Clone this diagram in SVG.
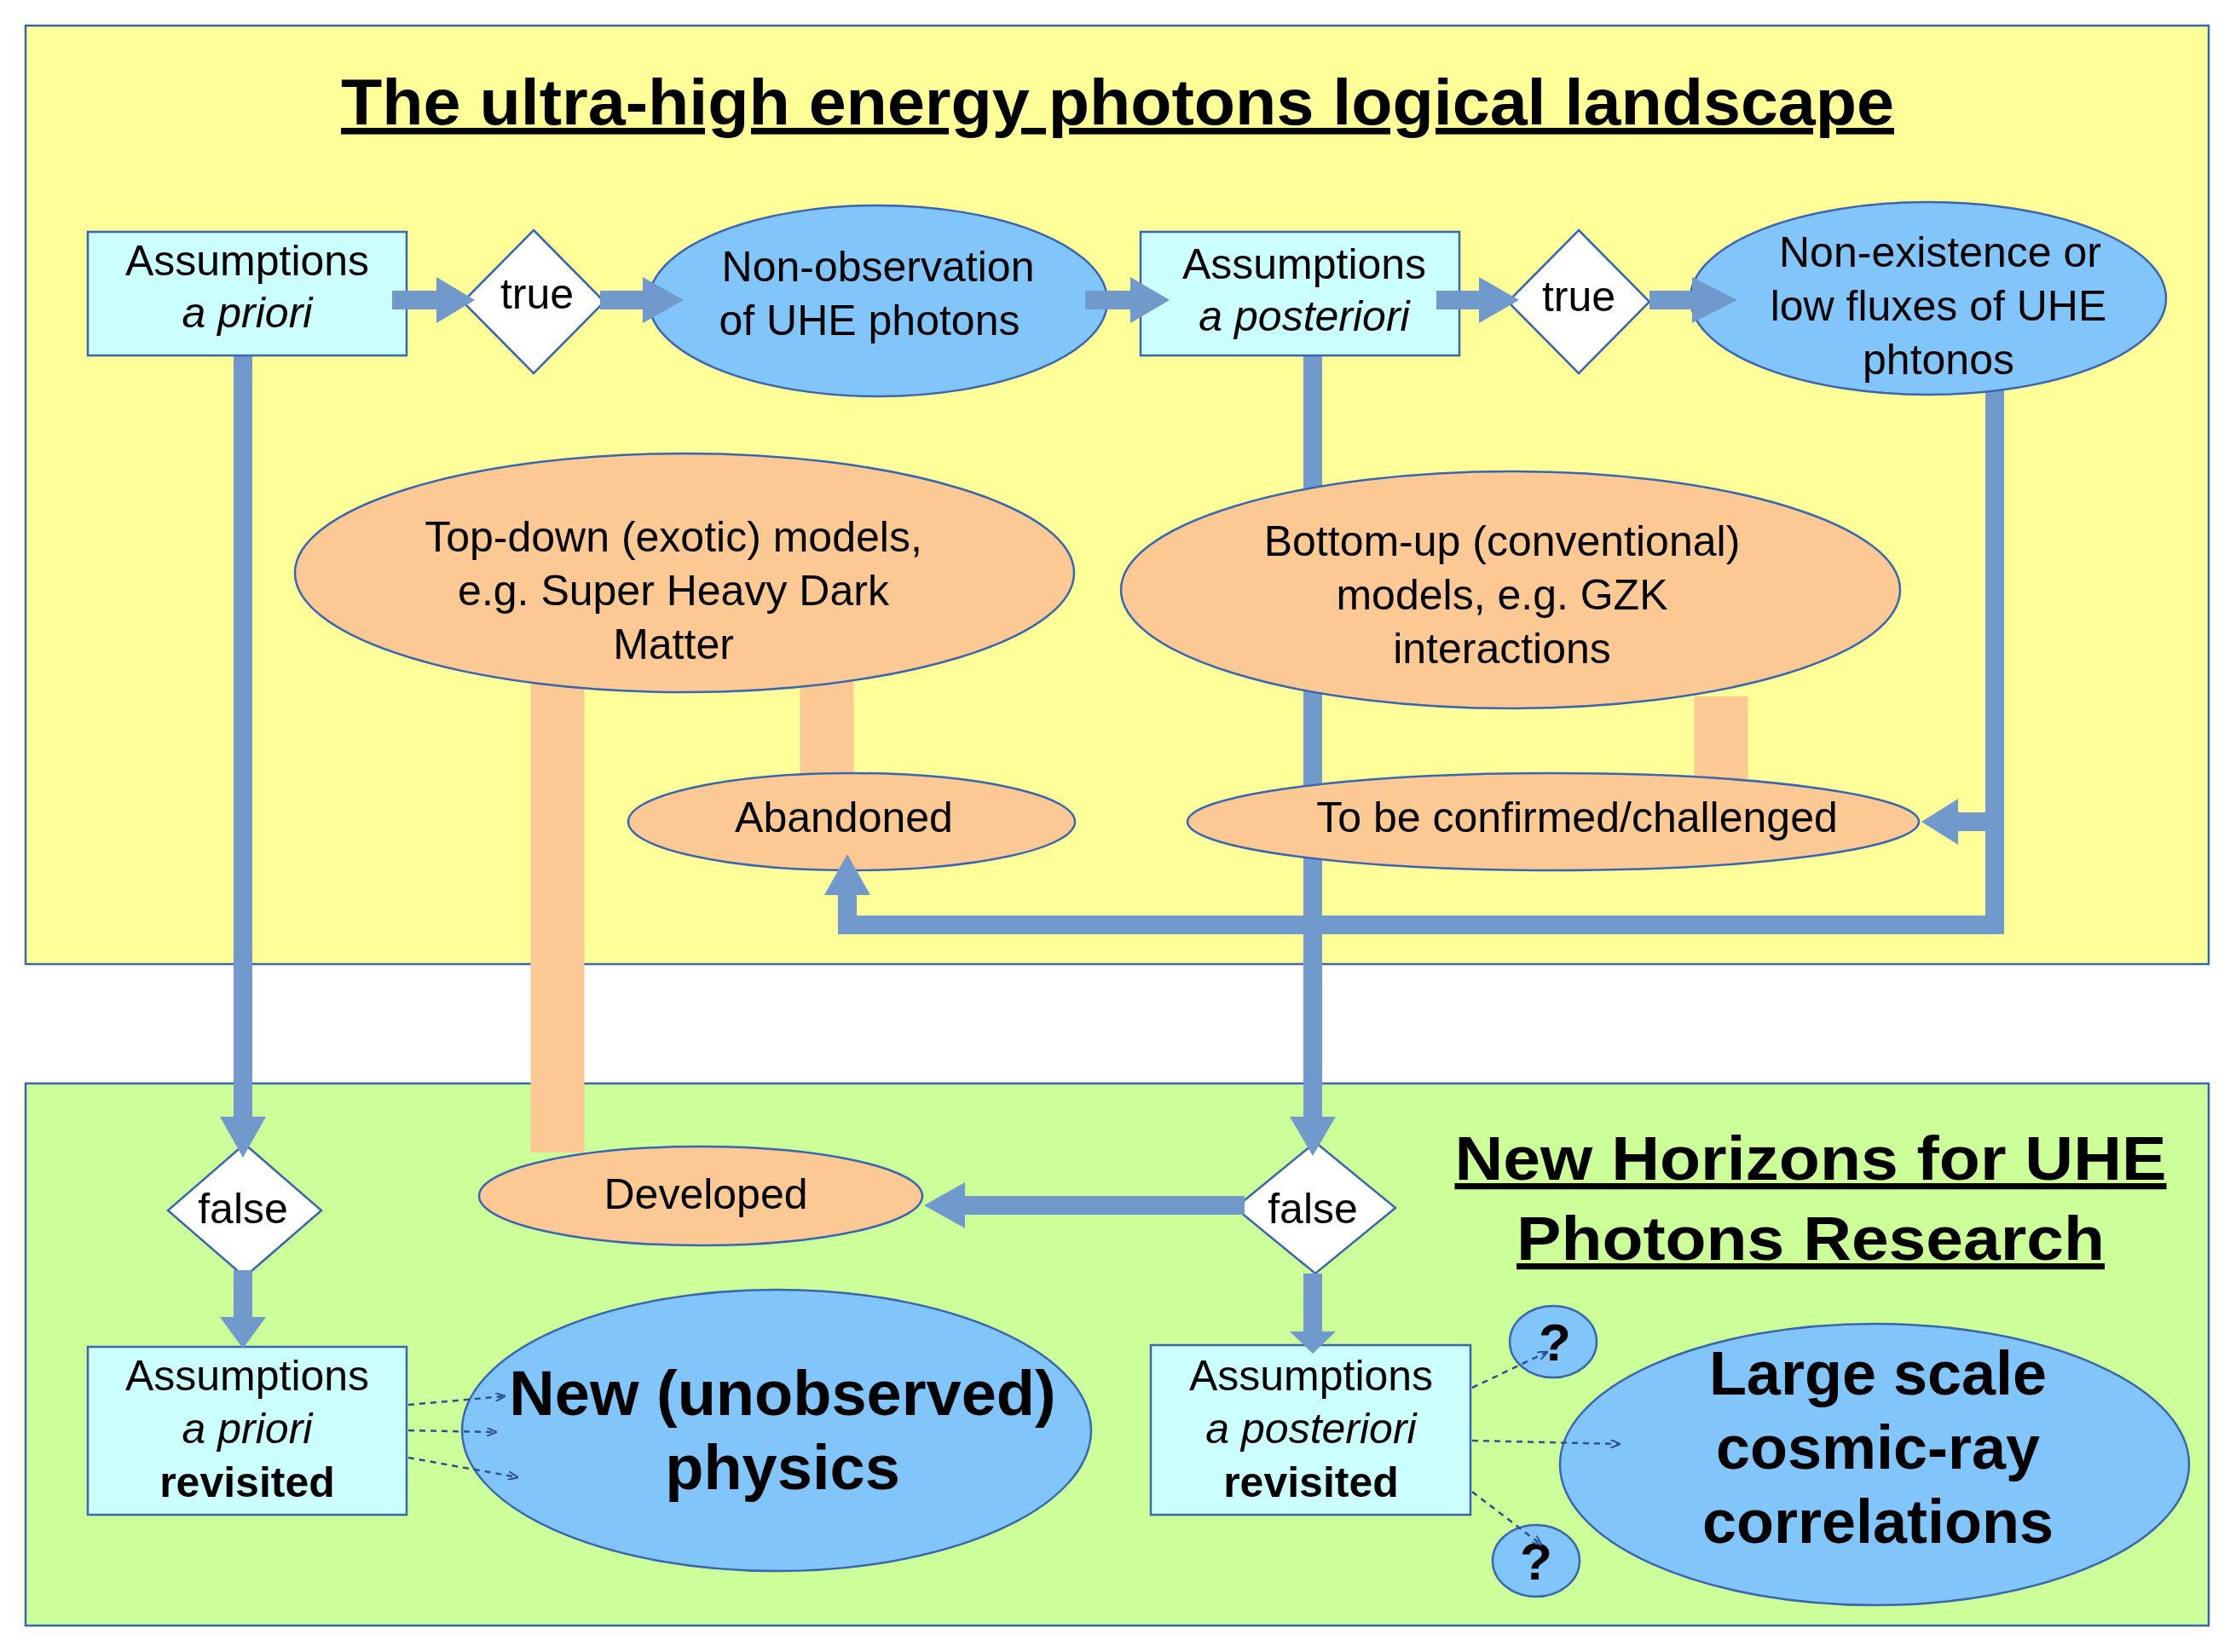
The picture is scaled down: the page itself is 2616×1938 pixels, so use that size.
<svg xmlns="http://www.w3.org/2000/svg" width="2616" height="1938" viewBox="0 0 2616 1938">
<style>
text{font-family:"Liberation Sans",Arial,sans-serif;fill:#000;text-anchor:middle}
.t{font-size:50px}
.b{font-weight:bold}
.i{font-style:italic}
.box{fill:#ccffff;stroke:#3a66b0;stroke-width:2.5}
.blue{fill:#82c5fb;stroke:#3a66b0;stroke-width:2.5}
.org{fill:#fcc894;stroke:#3a66b0;stroke-width:2.5}
.dia{fill:#fff;stroke:#3a66b0;stroke-width:2.5}
.ln{fill:none;stroke:#7299cc;stroke-width:22}
.hd{fill:#7299cc}
.ol{fill:none;stroke:#fcc894;stroke-width:63}
.ds{fill:none;stroke:#2f4f8f;stroke-width:2.5;stroke-dasharray:7 6;marker-end:url(#sa)}
</style>
<defs>
<marker id="sa" markerWidth="12" markerHeight="10" refX="11" refY="5" orient="auto" markerUnits="userSpaceOnUse"><path d="M0,0 L12,5 L0,10" fill="none" stroke="#2f4f8f" stroke-width="2"/></marker>
</defs>
<rect x="0" y="0" width="2616" height="1938" fill="#fff"/>
<g id="panel-top"><rect x="30" y="30" width="2561" height="1101" fill="#ffff99" stroke="#3a66b0" stroke-width="2.5"/>
<text x="1311" y="146" class="b" font-size="76" text-decoration="underline" textLength="1822" lengthAdjust="spacingAndGlyphs">The ultra-high energy photons logical landscape</text></g>
<g id="panel-bottom"><rect x="30" y="1271" width="2561" height="636" fill="#ccff99" stroke="#3a66b0" stroke-width="2.5"/>
<text x="2124" y="1384" class="b" font-size="72" text-decoration="underline" textLength="835" lengthAdjust="spacingAndGlyphs">New Horizons for UHE</text>
<text x="2124" y="1478" class="b" font-size="72" text-decoration="underline" textLength="690" lengthAdjust="spacingAndGlyphs">Photons Research</text></g>
<g id="connectors">
<path class="ln" d="M285,417 V1312"/>
<path class="ln" d="M1540,417 V1312"/>
<path class="ln" d="M2340,450 V1085 H994 V1048"/>
<path class="ln" d="M2340,964 H2295"/>
<path class="ol" d="M654,800 V1352"/>
<path class="ol" d="M970,800 V915"/>
<path class="ol" d="M2019,817 V915"/>
</g>
<g id="n-apriori"><rect class="box" x="103" y="272" width="374" height="145"/><text class="t" x="290" y="323">Assumptions</text><text class="t i" x="290" y="384">a priori</text></g>
<g id="n-true1"><polygon class="dia" points="626,270 709,354 626,438 543,354"/><text class="t" x="630" y="362">true</text></g>
<g id="n-nonobs"><ellipse class="blue" cx="1030" cy="353" rx="269" ry="112"/><text class="t" x="1030" y="330">Non-observation</text><text class="t" x="1020" y="393">of UHE photons</text></g>
<g id="n-apost"><rect class="box" x="1338" y="272" width="374" height="145"/><text class="t" x="1530" y="327">Assumptions</text><text class="t i" x="1530" y="388">a posteriori</text></g>
<g id="n-true2"><polygon class="dia" points="1852,270 1935,354 1852,438 1769,354"/><text class="t" x="1852" y="365">true</text></g>
<g id="n-nonexist"><ellipse class="blue" cx="2262" cy="350" rx="279" ry="113"/><text class="t" x="2276" y="313">Non-existence or</text><text class="t" x="2274" y="376">low fluxes of UHE</text><text class="t" x="2274" y="439">phtonos</text></g>
<g id="n-topdown"><ellipse class="org" cx="803" cy="672" rx="457" ry="140"/><text class="t" x="790" y="647">Top-down (exotic) models,</text><text class="t" x="790" y="710">e.g. Super Heavy Dark</text><text class="t" x="790" y="773">Matter</text></g>
<g id="n-bottomup"><ellipse class="org" cx="1772" cy="692" rx="457" ry="139"/><text class="t" x="1762" y="652">Bottom-up (conventional)</text><text class="t" x="1762" y="715">models, e.g. GZK</text><text class="t" x="1762" y="778">interactions</text></g>
<g id="n-abandoned"><ellipse class="org" cx="999" cy="964" rx="262" ry="57"/><text class="t" x="990" y="976">Abandoned</text></g>
<g id="n-confirm"><ellipse class="org" cx="1822" cy="964" rx="429" ry="57"/><text class="t" x="1850" y="976">To be confirmed/challenged</text></g>
<g id="n-developed"><ellipse class="org" cx="822" cy="1403" rx="260" ry="58"/><text class="t" x="828" y="1418">Developed</text></g>
<g id="n-false1"><polygon class="dia" points="287,1342 377,1420 287,1498 197,1420"/><text class="t" x="285" y="1435">false</text></g>
<g id="n-false2"><polygon class="dia" points="1543,1340 1637,1417 1543,1494 1449,1417"/><text class="t" x="1540" y="1435">false</text></g>
<g id="n-aprior-rev"><rect class="box" x="103" y="1580" width="374" height="197"/><text class="t" x="290" y="1631">Assumptions</text><text class="t i" x="290" y="1693">a priori</text><text class="t b" x="290" y="1756">revisited</text></g>
<g id="n-apost-rev"><rect class="box" x="1350" y="1578" width="375" height="199"/><text class="t" x="1538" y="1631">Assumptions</text><text class="t i" x="1538" y="1693">a posteriori</text><text class="t b" x="1538" y="1756">revisited</text></g>
<g id="n-newphys"><ellipse class="blue" cx="911" cy="1678" rx="369" ry="165"/><text class="b" font-size="74" x="918" y="1660">New (unobserved)</text><text class="b" font-size="74" x="918" y="1747">physics</text></g>
<g id="n-q1"><ellipse class="blue" cx="1822" cy="1574" rx="51" ry="42"/><text class="b" font-size="62" x="1824" y="1596">?</text></g>
<g id="n-q2"><ellipse class="blue" cx="1802" cy="1831" rx="51" ry="42"/><text class="b" font-size="62" x="1802" y="1853">?</text></g>
<g id="n-largescale"><ellipse class="blue" cx="2199" cy="1718" rx="369" ry="165"/><text class="b" font-size="72" x="2203" y="1636">Large scale</text><text class="b" font-size="72" x="2203" y="1723">cosmic-ray</text><text class="b" font-size="72" x="2203" y="1810">correlations</text></g>
<g id="connectors-top">
<path class="ln" d="M460,352 H514 M704,352 H756 M1273,352 H1328 M1685,352 H1737 M1935,352 H1987 M285,1490 V1547 M1540,1494 V1564 M1460,1414 H1130"/>
<polygon class="hd" points="512,325 557,352 512,379"/>
<polygon class="hd" points="754,325 802,352 754,379"/>
<polygon class="hd" points="1326,325 1372,352 1326,379"/>
<polygon class="hd" points="1735,325 1782,352 1735,379"/>
<polygon class="hd" points="1985,325 2038,352 1985,379"/>
<polygon class="hd" points="258,1310 312,1310 285,1358"/>
<polygon class="hd" points="1513,1310 1567,1310 1540,1356"/>
<polygon class="hd" points="258,1545 312,1545 285,1582"/>
<polygon class="hd" points="1513,1562 1567,1562 1540,1588"/>
<polygon class="hd" points="1132,1387 1132,1441 1084,1414"/>
<polygon class="hd" points="967,1050 1021,1050 994,1002"/>
<polygon class="hd" points="2297,937 2297,991 2254,964"/>
<path class="ds" d="M479,1648 L592,1638"/>
<path class="ds" d="M479,1678 L582,1680"/>
<path class="ds" d="M479,1710 L607,1733"/>
<path class="ds" d="M1727,1628 L1815,1586"/>
<path class="ds" d="M1727,1690 L1900,1694"/>
<path class="ds" d="M1727,1750 L1808,1812"/>
</g>
</svg>
